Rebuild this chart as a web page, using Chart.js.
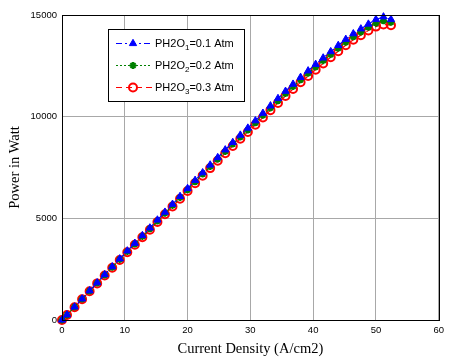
<!DOCTYPE html>
<html>
<head>
<meta charset="utf-8">
<script src="https://cdn.jsdelivr.net/npm/chart.js@4/dist/chart.umd.min.js"></script>
<style>
  body { margin: 0; background: #fff; }
</style>
</head>
<body>
<canvas id="powerChart" width="449" height="358"></canvas>
<script>
// Data
const currentDensity = [0, 0.8, 2.0, 3.2, 4.4, 5.6, 6.8, 8.0, 9.2, 10.4, 11.6, 12.8, 14.0, 15.2, 16.4, 17.6, 18.8, 20.0,
  21.2, 22.4, 23.6, 24.8, 26.0, 27.2, 28.4, 29.6, 30.8, 32.0, 33.2, 34.4, 35.6, 36.8, 38.0, 39.2, 40.4, 41.6,
  42.8, 44.0, 45.2, 46.4, 47.6, 48.8, 50.0, 51.2, 52.4];

const powerP1 = [0, 255, 645, 1040, 1440, 1835, 2235, 2620, 3010, 3400, 3775, 4155, 4530, 4920, 5305, 5695, 6080, 6470,
  6870, 7245, 7625, 7990, 8370, 8735, 9095, 9440, 9800, 10170, 10535, 10895, 11250, 11600, 11935, 12255, 12575, 12890,
  13200, 13505, 13805, 14080, 14320, 14555, 14780, 14910, 14780];

const powerP2 = [0, 252, 638, 1030, 1425, 1820, 2210, 2595, 2980, 3365, 3740, 4110, 4485, 4870, 5255, 5635, 6020, 6405,
  6800, 7175, 7545, 7910, 8285, 8650, 9000, 9345, 9700, 10065, 10430, 10780, 11135, 11480, 11815, 12130, 12440, 12755,
  13060, 13365, 13655, 13930, 14165, 14400, 14600, 14720, 14640];

const powerP3 = [0, 250, 630, 1020, 1410, 1800, 2190, 2570, 2950, 3330, 3700, 4070, 4440, 4820, 5200, 5580, 5960, 6340,
  6730, 7100, 7470, 7830, 8200, 8560, 8910, 9250, 9600, 9960, 10320, 10670, 11020, 11360, 11690, 12000, 12310, 12620,
  12920, 13220, 13510, 13780, 14010, 14240, 14430, 14530, 14500];

const legendSubs = [`1`, `2`, `3`];
const legendValues = [`=0.1 Atm`, `=0.2 Atm`, `=0.3 Atm`];

const toPoints = (ys) => currentDensity.map((x, i) => ({ x: x, y: ys[i] }));

// Series styles (MATLAB-ish)
const seriesStyle = [
  { color: `#0000ff`, dash: [6, 3, 2, 3], pointStyle: `triangle`, radius: 4.2, fill: `#0000ff`, bw: 1 },
  { color: `#008000`, dash: [2, 2], pointStyle: `star`, radius: 3.5, fill: `#008000`, bw: 2 },
  { color: `#ff0000`, dash: [6, 4], pointStyle: `circle`, radius: 4, fill: `rgba(0,0,0,0)`, bw: 2 }
];

const allSeries = [powerP1, powerP2, powerP3];

// Frame + legend plugin
const framePlugin = {
  id: `frame`,
  afterDraw(chart) {
    const ctx = chart.ctx;
    const a = chart.chartArea;
    ctx.save();
    ctx.strokeStyle = `#000`;
    ctx.lineWidth = 1;
    ctx.strokeRect(Math.round(a.left) + 0.5, Math.round(a.top) + 0.5, Math.round(a.right - a.left), Math.round(a.bottom - a.top));

    // legend box
    const lx = 108.5, ly = 29.5, lw = 136, lh = 72;
    ctx.fillStyle = `#fff`;
    ctx.fillRect(lx, ly, lw, lh);
    ctx.strokeRect(lx, ly, lw, lh);

    const rows = [43.5, 65.5, 87.5];
    rows.forEach((y, i) => {
      const s = seriesStyle[i];
      ctx.strokeStyle = s.color;
      ctx.lineWidth = 1.2;
      ctx.setLineDash(s.dash);
      ctx.beginPath();
      ctx.moveTo(116, y);
      ctx.lineTo(152, y);
      ctx.stroke();
      ctx.setLineDash([]);
      ctx.fillStyle = s.fill;
      ctx.strokeStyle = s.color;
      ctx.lineWidth = s.bw;
      Chart.helpers.drawPoint(ctx, { pointStyle: s.pointStyle, radius: s.radius, rotation: 0, borderWidth: s.bw }, 133, y);

      ctx.fillStyle = `#000`;
      ctx.textBaseline = `middle`;
      ctx.font = `11px "Liberation Sans", Arial, sans-serif`;
      let tx = 155;
      ctx.fillText(`PH2O`, tx, y);
      tx += ctx.measureText(`PH2O`).width;
      ctx.font = `8px "Liberation Sans", Arial, sans-serif`;
      ctx.fillText(legendSubs[i], tx, y + 4);
      tx += ctx.measureText(legendSubs[i]).width;
      ctx.font = `11px "Liberation Sans", Arial, sans-serif`;
      ctx.fillText(legendValues[i], tx, y);
    });
    ctx.restore();
  }
};

const tickFont = { family: `"Liberation Sans", Arial, sans-serif`, size: 9.5 };
const titleFont = { family: `"Liberation Serif", "Times New Roman", serif`, size: 14.5 };

new Chart(document.getElementById(`powerChart`), {
  type: `line`,
  data: {
    datasets: allSeries.map((ys, i) => ({
      label: `P${i + 1}`,
      data: toPoints(ys),
      borderColor: seriesStyle[i].color,
      borderWidth: 1.2,
      borderDash: seriesStyle[i].dash,
      pointStyle: seriesStyle[i].pointStyle,
      pointRadius: seriesStyle[i].radius,
      pointBackgroundColor: seriesStyle[i].fill,
      pointBorderColor: seriesStyle[i].color,
      pointBorderWidth: seriesStyle[i].bw,
      fill: false,
      tension: 0,
      clip: false
    }))
  },
  options: {
    responsive: false,
    animation: false,
    layout: { padding: { top: 15, right: 7, left: 0, bottom: 0 } },
    plugins: {
      legend: { display: false },
      tooltip: { enabled: false }
    },
    scales: {
      x: {
        type: `linear`,
        min: 0,
        max: 60,
        ticks: { stepSize: 10, color: `#000`, font: tickFont, padding: 5, maxRotation: 0, callback: (v) => String(v) },
        grid: { color: `#a8a8a8`, drawTicks: false },
        border: { color: `#000`, width: 1 },
        title: { display: true, text: `Current Density (A/cm2)`, color: `#000`, font: titleFont, padding: { top: 0, bottom: 0 } },
        afterFit: (scale) => { scale.height = 38; }
      },
      y: {
        min: 0,
        max: 15000,
        ticks: { stepSize: 5000, color: `#000`, font: tickFont, padding: 5, callback: (v) => String(v) },
        grid: { color: `#a8a8a8`, drawTicks: false },
        border: { color: `#000`, width: 1 },
        title: { display: true, text: `Power in Watt`, color: `#000`, font: titleFont, padding: { top: 6, bottom: 0 } },
        afterFit: (scale) => { scale.width = 62; }
      }
    }
  },
  plugins: [framePlugin]
});
</script>
</body>
</html>
